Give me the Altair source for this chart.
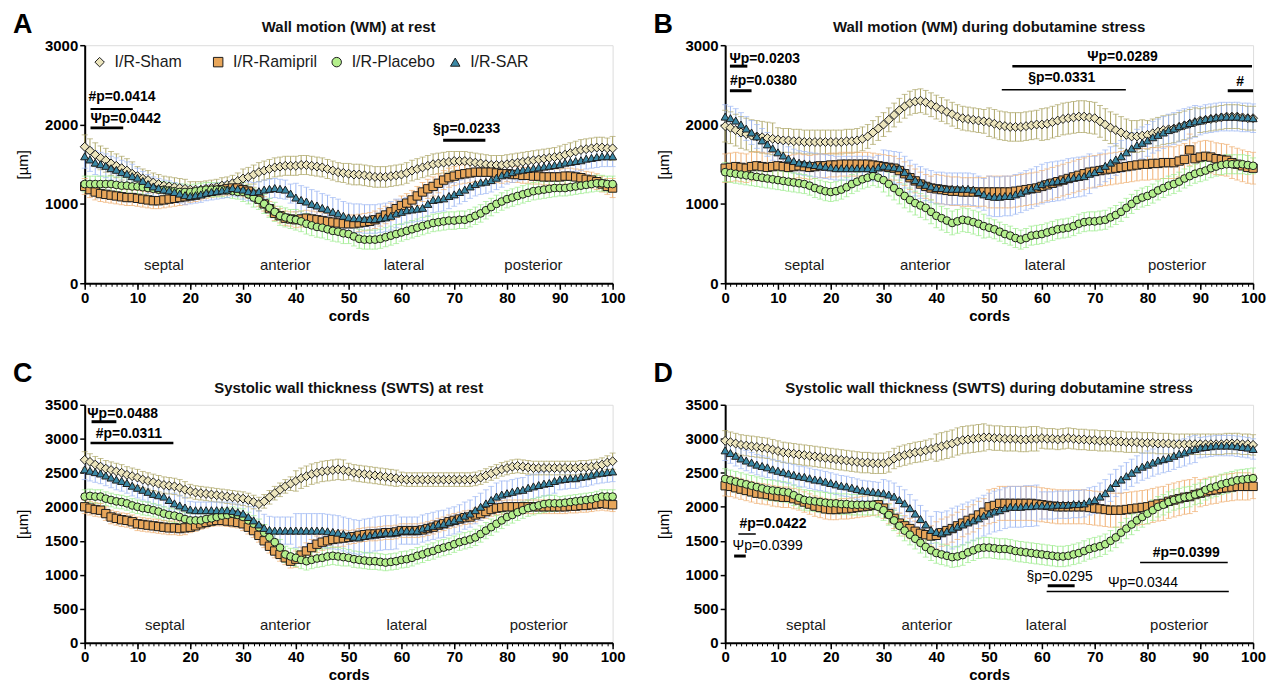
import altair as alt
import pandas as pd

FONT = "Liberation Sans, Arial, Helvetica, sans-serif"
CORDS = list(range(101))
SERIES = ["I/R-Sham", "I/R-Ramipril", "I/R-Placebo", "I/R-SAR"]
SHAPES = ["diamond", "square", "circle", "triangle-up"]
FILLS = ["#ece5bd", "#e8a65a", "#b4ef8c", "#3a88a5"]
ERR_COLORS = ["#aca566", "#f0b074", "#9eec8e", "#a0b9f4"]
MARK_STROKES = ["#1c1c1c", "#1c1c1c", "#1c1c1c", "#1c1c1c"]
SIZES = [80, 70, 60, 66]
REGIONS = ["septal", "anterior", "lateral", "posterior"]

# ---------------- Panel A: wall motion at rest ----------------
A_SHAM = [1720,1670,1620,1580,1550,1510,1480,1450,1420,1380,
          1350,1320,1300,1270,1250,1230,1220,1210,1200,1190,
          1180,1180,1180,1190,1200,1210,1230,1240,1260,1290,
          1320,1340,1370,1400,1420,1440,1460,1470,1480,1480,
          1480,1490,1490,1480,1470,1460,1440,1420,1400,1390,
          1380,1370,1370,1360,1350,1340,1340,1340,1350,1360,
          1370,1390,1420,1440,1460,1480,1500,1510,1520,1530,
          1540,1540,1540,1530,1520,1510,1500,1490,1490,1490,
          1500,1510,1520,1530,1540,1550,1560,1570,1580,1590,
          1600,1620,1640,1660,1680,1690,1700,1710,1710,1700,
          1700]
A_RAM = [1220,1180,1150,1130,1120,1110,1100,1090,1080,1080,
         1070,1060,1050,1040,1040,1050,1060,1070,1080,1090,
         1100,1110,1130,1150,1160,1170,1180,1190,1200,1200,
         1180,1160,1120,1060,1000,940,880,850,820,810,
         800,810,820,810,800,790,780,770,760,750,
         750,750,760,770,780,800,830,860,900,940,
         980,1010,1050,1100,1150,1190,1220,1260,1300,1330,
         1350,1370,1380,1390,1400,1400,1400,1400,1390,1380,
         1380,1370,1370,1360,1360,1350,1350,1340,1340,1340,
         1340,1350,1350,1340,1330,1310,1300,1280,1250,1220,
         1200]
A_PLA = [1250,1250,1250,1250,1250,1250,1240,1230,1230,1220,
         1220,1210,1200,1190,1180,1180,1170,1160,1150,1150,
         1150,1160,1170,1180,1180,1180,1180,1170,1160,1150,
         1150,1120,1080,1050,1000,950,900,850,830,810,
         800,780,750,730,710,700,680,660,650,630,
         620,590,560,550,550,550,560,580,600,620,
         640,660,680,700,720,740,760,770,780,790,
         790,800,800,820,850,880,920,960,1000,1030,
         1060,1080,1100,1120,1140,1160,1170,1180,1190,1200,
         1200,1200,1210,1220,1230,1240,1250,1260,1260,1250,
         1250]
A_SAR = [1600,1560,1520,1500,1480,1450,1430,1400,1380,1350,
         1330,1290,1250,1220,1200,1180,1170,1150,1130,1110,
         1100,1110,1120,1140,1150,1160,1170,1180,1200,1190,
         1180,1160,1150,1160,1180,1190,1200,1190,1180,1130,
         1080,1050,1030,1000,980,950,930,900,880,850,
         830,820,820,810,810,810,820,830,850,880,
         900,920,930,940,950,1000,1050,1060,1070,1100,
         1120,1150,1180,1220,1250,1270,1280,1300,1330,1360,
         1380,1400,1420,1430,1440,1450,1460,1470,1480,1490,
         1500,1520,1530,1540,1550,1570,1580,1590,1600,1600,
         1600]
# SEM per block of ten cords (0-9, 10-19, ..., 90-100)
A_SEM = [[150,120,100,120,120,130,130,120,120,130,150],
         [100,100,80,90,100,110,120,120,100,100,120],
         [100,100,90,120,130,120,110,110,110,100,100],
         [150,120,100,120,180,180,160,150,130,130,130]]

# ---------------- Panel B: wall motion, dobutamine ----------------
B_SHAM = [1980,1960,1930,1900,1880,1860,1850,1840,1830,1820,
          1810,1800,1800,1790,1790,1780,1780,1780,1780,1780,
          1780,1780,1780,1790,1790,1800,1820,1850,1900,1950,
          2000,2060,2120,2180,2230,2270,2290,2300,2280,2250,
          2220,2190,2160,2130,2100,2080,2070,2060,2050,2040,
          2030,2010,1990,1980,1970,1970,1970,1980,1990,2000,
          2000,2010,2030,2050,2070,2080,2090,2100,2100,2090,
          2080,2040,2000,1960,1930,1900,1870,1850,1850,1860,
          1870,1890,1910,1930,1940,1950,1970,1990,2010,2030,
          2050,2060,2070,2080,2090,2100,2100,2100,2090,2080,
          2080]
B_RAM = [1450,1460,1470,1460,1450,1470,1480,1470,1460,1470,
         1480,1470,1460,1470,1480,1470,1460,1470,1480,1480,
         1490,1490,1500,1500,1500,1500,1500,1500,1490,1480,
         1470,1460,1450,1420,1380,1330,1290,1250,1220,1200,
         1190,1180,1170,1160,1160,1150,1150,1150,1150,1150,
         1150,1150,1150,1150,1150,1160,1170,1180,1190,1200,
         1220,1240,1260,1280,1300,1320,1340,1360,1380,1400,
         1410,1420,1430,1440,1450,1460,1470,1480,1490,1500,
         1500,1510,1510,1520,1520,1520,1540,1560,1680,1570,
         1590,1600,1590,1570,1560,1550,1520,1500,1480,1460,
         1450]
B_PLA = [1400,1390,1380,1370,1360,1350,1340,1330,1320,1310,
         1300,1290,1280,1270,1260,1250,1230,1200,1180,1160,
         1150,1160,1180,1210,1250,1280,1310,1330,1350,1330,
         1300,1250,1200,1150,1100,1050,1010,980,950,900,
         850,820,790,760,780,800,790,770,750,720,
         700,680,650,620,600,570,550,570,600,610,
         620,640,660,680,690,700,720,750,770,780,
         780,790,800,830,860,900,950,1000,1050,1080,
         1100,1130,1170,1200,1230,1250,1280,1320,1350,1380,
         1400,1420,1450,1470,1490,1500,1500,1500,1500,1490,
         1480]
B_SAR = [2100,2080,2050,2000,1950,1900,1850,1800,1750,1700,
         1650,1610,1570,1540,1520,1510,1500,1490,1480,1470,
         1460,1450,1450,1450,1450,1450,1450,1450,1440,1460,
         1480,1470,1460,1450,1400,1350,1300,1270,1240,1220,
         1200,1200,1190,1190,1190,1190,1190,1180,1150,1120,
         1100,1090,1090,1100,1100,1120,1140,1170,1190,1220,
         1250,1270,1280,1290,1300,1320,1330,1340,1350,1380,
         1400,1440,1480,1520,1560,1600,1650,1700,1740,1770,
         1800,1840,1870,1900,1930,1950,1980,2000,2020,2040,
         2050,2070,2080,2090,2100,2100,2100,2100,2090,2090,
         2080]
B_SEM = [[200,150,150,150,150,180,200,200,180,150,150],
         [180,150,150,150,180,200,200,200,200,200,200],
         [120,120,120,150,150,120,120,120,120,120,100],
         [150,150,150,200,200,250,250,200,200,180,180]]

# ---------------- Panel C: systolic wall thickness at rest ----------------
C_SHAM = [2690,2660,2620,2590,2560,2540,2520,2500,2470,2450,
          2430,2400,2380,2360,2340,2320,2310,2300,2280,2250,
          2230,2210,2200,2190,2180,2170,2160,2150,2140,2130,
          2120,2100,2070,2040,2080,2140,2200,2250,2300,2340,
          2380,2420,2450,2480,2500,2520,2530,2540,2550,2540,
          2520,2500,2490,2480,2470,2460,2450,2440,2430,2420,
          2410,2400,2400,2400,2400,2400,2400,2400,2400,2400,
          2400,2400,2400,2400,2410,2430,2460,2490,2520,2550,
          2570,2590,2600,2590,2580,2570,2570,2570,2570,2570,
          2570,2570,2570,2570,2580,2580,2590,2600,2620,2650,
          2670]
C_RAM = [2000,1980,1960,1950,1900,1850,1830,1810,1800,1780,
         1750,1740,1730,1720,1710,1700,1690,1690,1680,1690,
         1700,1720,1750,1770,1790,1800,1800,1790,1780,1770,
         1750,1700,1650,1580,1500,1420,1350,1300,1250,1200,
         1230,1290,1350,1400,1450,1480,1500,1520,1530,1540,
         1550,1560,1580,1590,1600,1600,1610,1620,1620,1630,
         1650,1650,1650,1650,1660,1680,1700,1730,1750,1780,
         1800,1820,1840,1850,1880,1900,1930,1960,1980,1990,
         2000,2000,2000,2000,2000,2000,2000,2000,2000,2000,
         2000,2000,2010,2010,2020,2020,2030,2040,2050,2040,
         2030]
C_PLA = [2150,2160,2150,2150,2120,2100,2080,2070,2050,2020,
         2000,1980,1970,1950,1930,1900,1880,1870,1850,1820,
         1800,1800,1800,1820,1830,1850,1870,1880,1900,1880,
         1850,1800,1750,1700,1620,1550,1480,1400,1300,1270,
         1250,1220,1200,1220,1240,1250,1270,1280,1270,1260,
         1250,1230,1220,1210,1200,1200,1190,1180,1190,1200,
         1220,1230,1250,1280,1300,1330,1350,1380,1400,1420,
         1450,1480,1500,1520,1550,1600,1650,1700,1750,1800,
         1850,1880,1920,1950,1980,2000,2020,2040,2050,2050,
         2050,2060,2070,2080,2090,2100,2110,2130,2150,2150,
         2150]
C_SAR = [2550,2530,2510,2490,2460,2430,2400,2380,2350,2310,
         2280,2250,2220,2190,2170,2150,2100,2050,2020,1990,
         1960,1950,1950,1950,1950,1950,1950,1950,1940,1920,
         1900,1850,1800,1740,1690,1660,1650,1650,1650,1650,
         1650,1650,1650,1650,1650,1650,1640,1630,1620,1600,
         1580,1560,1550,1570,1580,1600,1610,1620,1620,1630,
         1650,1650,1650,1650,1680,1700,1720,1740,1750,1780,
         1800,1830,1870,1900,1950,2000,2050,2100,2150,2180,
         2200,2220,2240,2250,2280,2300,2320,2340,2350,2380,
         2400,2410,2420,2420,2440,2450,2470,2490,2500,2510,
         2520]
C_SEM = [[120,120,100,100,150,120,100,100,100,100,120],
         [100,100,80,100,120,100,100,100,100,100,100],
         [100,100,100,120,130,120,120,120,120,100,100],
         [150,150,120,200,250,250,200,200,180,150,150]]

# ---------------- Panel D: systolic wall thickness, dobutamine ----------------
D_SHAM = [2970,2950,2930,2910,2900,2890,2880,2870,2860,2840,
          2820,2800,2790,2780,2770,2760,2750,2740,2730,2720,
          2710,2700,2690,2680,2670,2660,2650,2650,2640,2640,
          2640,2660,2710,2740,2760,2780,2800,2810,2830,2850,
          2870,2890,2910,2930,2960,2980,2990,3000,3010,3020,
          3020,3010,3010,3000,3000,3000,2990,2990,3000,3000,
          3010,3000,3000,2990,3000,3010,3000,2990,2990,2980,
          2980,2970,2970,2970,2960,2960,2950,2950,2950,2940,
          2940,2940,2930,2930,2930,2920,2920,2920,2920,2920,
          2920,2920,2920,2920,2920,2930,2930,2930,2920,2920,
          2910]
D_RAM = [2310,2300,2280,2260,2240,2220,2200,2190,2180,2160,
         2150,2140,2140,2120,2100,2070,2040,2010,1990,1970,
         1960,1960,1970,1970,1980,1990,2000,2010,2020,2030,
         1980,1900,1830,1760,1720,1680,1640,1610,1590,1570,
         1580,1620,1650,1680,1720,1760,1800,1830,1880,1920,
         2000,2020,2050,2050,2050,2050,2050,2050,2050,2040,
         2030,2020,2010,2000,2000,2000,2000,2000,2000,1990,
         1980,1970,1960,1950,1950,1950,1960,1970,1980,1990,
         2000,2020,2040,2050,2080,2100,2120,2140,2150,2180,
         2200,2220,2240,2250,2270,2280,2290,2300,2300,2300,
         2300]
D_PLA = [2410,2390,2370,2350,2330,2310,2290,2270,2250,2240,
         2230,2220,2210,2170,2130,2100,2090,2080,2070,2060,
         2050,2050,2040,2040,2030,2030,2030,2030,2030,2000,
         1950,1880,1800,1720,1650,1590,1530,1470,1410,1360,
         1320,1300,1280,1260,1270,1290,1330,1360,1390,1400,
         1400,1390,1380,1380,1370,1350,1340,1330,1320,1310,
         1300,1290,1280,1270,1270,1280,1300,1320,1350,1380,
         1400,1420,1450,1500,1550,1620,1680,1740,1800,1850,
         1900,1950,2000,2030,2070,2100,2120,2140,2150,2180,
         2200,2250,2280,2300,2330,2350,2370,2390,2400,2410,
         2420]
D_SAR = [2830,2790,2750,2710,2680,2650,2620,2600,2580,2550,
         2530,2510,2490,2470,2450,2440,2420,2400,2390,2370,
         2350,2330,2310,2300,2280,2260,2240,2230,2220,2210,
         2200,2180,2150,2100,2050,1980,1900,1820,1740,1660,
         1630,1620,1640,1680,1710,1740,1770,1800,1830,1870,
         1900,1930,1950,1980,2000,2000,2000,2010,2010,2020,
         2020,2020,2020,2030,2030,2030,2040,2040,2050,2080,
         2100,2150,2200,2280,2350,2400,2450,2500,2550,2590,
         2620,2650,2680,2700,2720,2750,2780,2800,2830,2850,
         2870,2880,2890,2900,2900,2900,2900,2890,2880,2870,
         2850]
D_SEM = [[150,150,150,150,200,180,150,150,150,150,150],
         [150,150,150,150,200,250,250,250,250,200,180],
         [150,150,150,150,150,150,150,150,150,150,150],
         [150,150,150,200,300,300,200,200,200,150,150]]

# significance annotations: lines (x, x2, y, width) and texts (x, y, text, bold)
A_LINES = [(1.1, 9.1, 2196, 2), (1.1, 7.3, 1958, 3), (67.9, 75.9, 1801, 3)]
A_TEXTS = [(0.7, 2350, "#p=0.0414", True), (1.1, 2069, "Ψp=0.0442", True),
           (66.0, 1949, "§p=0.0233", True)]
B_LINES = [(0.9, 4.2, 2736, 3), (0.9, 5.0, 2426, 3), (54.4, 99.8, 2736, 2.5),
           (52.4, 75.9, 2439, 1.5), (95.2, 100, 2426, 3)]
B_TEXTS = [(0.8, 2829, "Ψp=0.0203", True), (0.9, 2553, "#p=0.0380", True),
           (68.6, 2851, "Ψp=0.0289", True), (57.4, 2583, "§p=0.0331", True),
           (96.8, 2532, "#", True)]
C_LINES = [(1.3, 6.0, 3251, 3), (1.1, 16.8, 2937, 2.5)]
C_TEXTS = [(0.5, 3366, "Ψp=0.0488", True), (2.1, 3071, "#p=0.0311", True)]
D_LINES = [(2.5, 5.8, 1600, 1.5), (1.7, 3.9, 1276, 3), (78.6, 95.2, 1181, 1.5),
           (61.1, 66.2, 839, 3), (60.9, 95.4, 753, 1.5)]
D_TEXTS = [(2.7, 1743, "#p=0.0422", True), (1.4, 1419, "Ψp=0.0399", False),
           (81.0, 1324, "#p=0.0399", True), (57.1, 967, "§p=0.0295", False),
           (72.5, 881, "Ψp=0.0344", False)]

A_REG_X = [15, 38, 60.5, 85]
B_REG_X = [15, 37.9, 60.6, 85.6]
C_REG_X = [15.2, 38, 61, 86]
D_REG_X = [15.3, 38.2, 60.8, 86]

W, H = 530, 239


def panel(means, sems, ymax, ystep, letter, title, letter_y, title_y,
          lines, texts, reg_x, reg_y, legend):
    rows = []
    for i, name in enumerate(SERIES):
        for c in CORDS:
            m = means[i][c]
            e = sems[i][c // 10]
            rows.append({"series": name, "k": i, "cord": c, "mean": m,
                         "lo": m - e, "hi": m + e, "sz": SIZES[i]})
    df = pd.DataFrame(rows)
    xs = alt.Scale(domain=[0, 100], nice=False, zero=False)
    ys = alt.Scale(domain=[0, ymax], nice=False)
    x_axis = alt.Axis(values=list(range(0, 101, 10)), title="cords", orient="bottom",
                      titleFontWeight="bold", titleFontSize=15, labelFontSize=15,
                      labelFontWeight="bold", tickSize=6, tickWidth=1.5, domainWidth=2,
                      domainColor="black", tickColor="black", labelColor="black",
                      titleColor="black", grid=False, labelPadding=1, titlePadding=3,
                      labelFlush=False, format="d")
    x_minor = alt.Axis(values=CORDS, labels=False, title=None, domain=False, tickSize=3,
                       tickWidth=1, tickColor="black", grid=False, orient="bottom")
    y_axis = alt.Axis(values=list(range(0, ymax + 1, ystep)), title="[µm]", format="d",
                      titleFontWeight="normal", titleFontSize=15, labelFontSize=15,
                      labelFontWeight="bold", tickSize=5, tickWidth=1.5, domainWidth=2,
                      domainColor="black", tickColor="black", labelColor="black",
                      titleColor="black", grid=False, labelPadding=2, titlePadding=14)

    def Y(field):
        return alt.Y(field, scale=ys, axis=y_axis, title="[µm]")

    err_color = alt.Color("series:N", scale=alt.Scale(domain=SERIES, range=ERR_COLORS),
                          legend=None)
    base = alt.Chart(df)
    bars = base.mark_rule(strokeWidth=1).encode(
        x=alt.X("cord:Q", scale=xs, axis=x_axis),
        y=Y("lo:Q"), y2="hi:Q", color=err_color)
    cap_lo = base.mark_tick(orient="horizontal", size=6, thickness=1).encode(
        x=alt.X("cord:Q", scale=xs, axis=None), y=Y("lo:Q"), color=err_color)
    cap_hi = base.mark_tick(orient="horizontal", size=6, thickness=1).encode(
        x=alt.X("cord:Q", scale=xs, axis=None), y=Y("hi:Q"), color=err_color)
    if legend:
        leg = alt.Legend(orient="none", legendX=7, legendY=9, direction="horizontal",
                         title=None, labelFont=FONT, labelFontSize=16, labelColor="#1a1a1a",
                         symbolSize=90, symbolStrokeWidth=1,
                         columnPadding=11, labelOffset=7, padding=0, gridAlign="all")
    else:
        leg = None
    pts = base.mark_point(filled=True, opacity=1, strokeWidth=1).encode(
        x=alt.X("cord:Q", scale=xs, axis=None),
        y=Y("mean:Q"),
        fill=alt.Fill("series:N", scale=alt.Scale(domain=SERIES, range=FILLS), legend=leg),
        shape=alt.Shape("series:N", scale=alt.Scale(domain=SERIES, range=SHAPES), legend=leg),
        stroke=alt.Stroke("series:N", scale=alt.Scale(domain=SERIES, range=MARK_STROKES),
                          legend=leg),
        size=alt.Size("sz:Q", scale=None),
        order=alt.Order("k:Q"))
    ldf = pd.DataFrame(lines, columns=["x", "x2", "y", "w"])
    ann_lines = alt.Chart(ldf).mark_rule(color="black").encode(
        x=alt.X("x:Q", scale=xs, axis=None), x2="x2:Q",
        y=Y("y:Q"),
        strokeWidth=alt.StrokeWidth("w:Q", scale=None))
    tdf = pd.DataFrame(texts, columns=["x", "y", "t", "b"])
    layers = [bars, cap_lo, cap_hi, pts, ann_lines]
    for flag, weight in [(True, "bold"), (False, "normal")]:
        sub = tdf[tdf["b"] == flag]
        if len(sub):
            layers.append(alt.Chart(sub).mark_text(
                align="left", baseline="middle", fontSize=14, fontWeight=weight,
                color="black", font=FONT).encode(
                x=alt.X("x:Q", scale=xs, axis=None),
                y=Y("y:Q"), text="t:N"))
    rdf = pd.DataFrame({"x": reg_x, "y": [reg_y] * 4, "t": REGIONS})
    layers.append(alt.Chart(rdf).mark_text(
        align="center", baseline="middle", fontSize=15, color="#1a1a1a", font=FONT).encode(
        x=alt.X("x:Q", scale=xs, axis=x_minor),
        y=Y("y:Q"), text="t:N"))
    layers.append(alt.Chart(pd.DataFrame({"t": [letter]})).mark_text(
        align="left", baseline="alphabetic", fontSize=27, fontWeight="bold",
        color="black", font=FONT).encode(
        x=alt.value(-72), y=alt.value(letter_y), text="t:N"))
    layers.append(alt.Chart(pd.DataFrame({"t": [title]})).mark_text(
        align="center", baseline="alphabetic", fontSize=15, fontWeight="bold",
        color="#111111", font=FONT).encode(
        x=alt.value(W / 2), y=alt.value(title_y), text="t:N"))
    return alt.layer(*layers).properties(width=W, height=H).resolve_axis(x="independent")


pa = panel([A_SHAM, A_RAM, A_PLA, A_SAR], A_SEM, 3000, 1000, "A",
           "Wall motion (WM) at rest", -12, -13, A_LINES, A_TEXTS, A_REG_X, 230, True)
pb = panel([B_SHAM, B_RAM, B_PLA, B_SAR], B_SEM, 3000, 1000, "B",
           "Wall motion (WM) during dobutamine stress", -12, -13, B_LINES, B_TEXTS,
           B_REG_X, 230, False)
pc = panel([C_SHAM, C_RAM, C_PLA, C_SAR], C_SEM, 3500, 500, "C",
           "Systolic wall thickness (SWTS) at rest", -23, -12, C_LINES, C_TEXTS,
           C_REG_X, 255, False)
pd_ = panel([D_SHAM, D_RAM, D_PLA, D_SAR], D_SEM, 3500, 500, "D",
            "Systolic wall thickness (SWTS) during dobutamine stress", -23, -12,
            D_LINES, D_TEXTS, D_REG_X, 255, False)

IND = dict(fill="independent", shape="independent", stroke="independent")
row1 = alt.hconcat(pa, pb, spacing=26).resolve_scale(**IND)
row2 = alt.hconcat(pc, pd_, spacing=26).resolve_scale(**IND)
chart = alt.vconcat(row1, row2, spacing=35).resolve_scale(**IND).properties(
    padding={"left": 4, "top": 1, "right": 4, "bottom": 0},
    background="white",
).configure_view(stroke=None).configure(font=FONT)

chart.save("out.html", embed_options={"renderer": "svg", "actions": False})
